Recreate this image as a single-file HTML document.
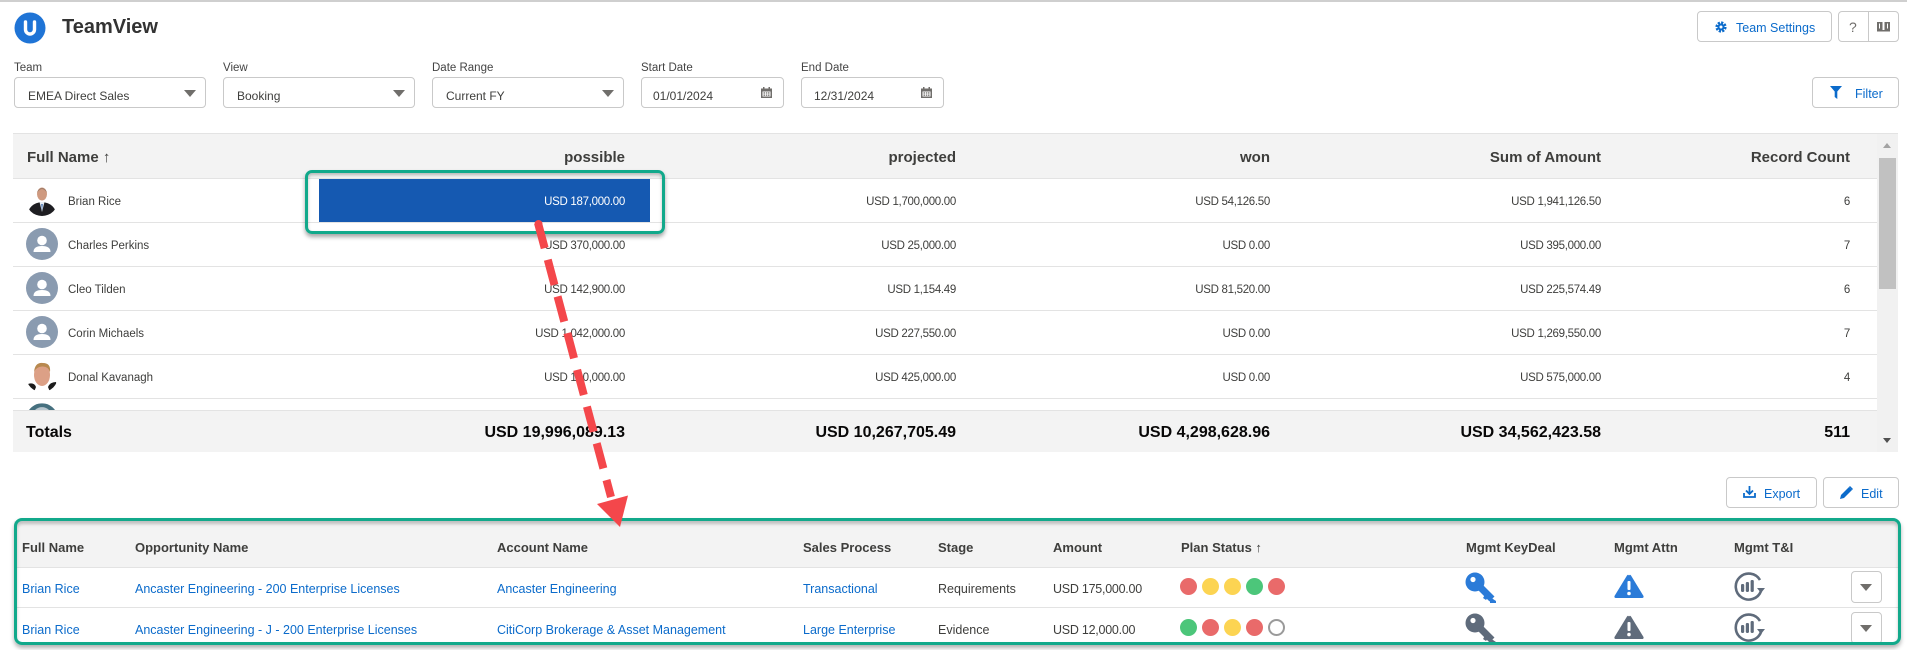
<!DOCTYPE html>
<html><head><meta charset="utf-8"><style>
*{margin:0;padding:0;box-sizing:border-box}
body{width:1907px;height:650px;overflow:hidden;background:#fff;font-family:"Liberation Sans",sans-serif;color:#3e3e3c}
#w{position:relative;width:1907px;height:650px;overflow:hidden;background:#fff}
.a{position:absolute}
.t{position:absolute;white-space:nowrap;line-height:1}
.lbl{font-size:11.5px;color:#444}
.box{position:absolute;border:1px solid #c9c9c9;border-radius:4px;background:#fff}
.dd{font-size:12px;color:#3e3e3c}
.tri{position:absolute;width:0;height:0;border-left:6px solid transparent;border-right:6px solid transparent;border-top:7px solid #706e6b}
.h1{font-size:15px;font-weight:bold;color:#3e3e3c}
.nm{font-size:11.5px;color:#3e3e3c}
.num{font-size:11.5px;color:#3e3e3c;letter-spacing:-0.3px}
.tot{font-size:16px;font-weight:bold;color:#080707}
.rl{position:absolute;left:13px;width:1864px;height:1px;background:#e3e3e3}
.h2{font-size:13px;font-weight:bold;color:#3e3e3c}
.lk{font-size:12.5px;color:#0b6bcb}
.tx{font-size:12.5px;color:#3e3e3c}
.dot{position:absolute;width:17px;height:17px;border-radius:50%}
.R{background:#e96a6a}.Y{background:#fcd452}.G{background:#4cc67a}
.E{background:#fff;border:2px solid #9a9a9a}
.btn{position:absolute;border:1px solid #c9c9c9;border-radius:4px;background:#fff}
.bt{font-size:12.5px;color:#0b6bcb}
</style></head><body><div id="w">

<!-- top border -->
<div class="a" style="left:0;top:0;width:1907px;height:2px;background:#cfcfcf"></div>

<!-- logo -->
<svg class="a" style="left:14px;top:12px" width="32" height="32" viewBox="0 0 32 32">
<circle cx="16" cy="16" r="15.5" fill="#1f74d6"/>
<path d="M11.5 10 V17.5 A4.5 4.5 0 0 0 20.5 17.5 V10" fill="none" stroke="#fff" stroke-width="3.4" stroke-linecap="round"/>
</svg>
<div class="t" style="left:62px;top:17px;font-size:20px;font-weight:bold;color:#333">TeamView</div>

<!-- top right buttons -->
<div class="btn" style="left:1697px;top:11px;width:135px;height:31px"></div>
<svg class="a" style="left:1715px;top:21px" width="12" height="12" viewBox="0 0 12 12">
<circle cx="6" cy="6" r="4" fill="none" stroke="#0b6bcb" stroke-width="3.2" stroke-dasharray="2 1.14"/>
<circle cx="6" cy="6" r="3.6" fill="#0b6bcb"/><circle cx="6" cy="6" r="1.5" fill="#fff"/>
</svg>
<div class="t bt" style="left:1736px;top:22px">Team Settings</div>
<div class="btn" style="left:1838px;top:11px;width:61px;height:31px"></div>
<div class="a" style="left:1868px;top:12px;width:1px;height:29px;background:#c9c9c9"></div>
<div class="t" style="left:1849px;top:20px;font-size:14px;color:#706e6b">?</div>
<svg class="a" style="left:1877px;top:21px" width="13" height="11" viewBox="0 0 13 11">
<rect x="0" y="1" width="5.5" height="8" fill="#706e6b"/><rect x="7.5" y="1" width="5.5" height="8" fill="#706e6b"/>
<rect x="0" y="9" width="13" height="1.5" fill="#706e6b"/><rect x="2" y="2.5" width="1" height="5" fill="#fff"/><rect x="10" y="2.5" width="1" height="5" fill="#fff"/>
</svg>

<!-- filters -->
<div class="t lbl" style="left:14px;top:63px">Team</div>
<div class="box" style="left:14px;top:77px;width:192px;height:31px"></div>
<div class="t dd" style="left:28px;top:90px">EMEA Direct Sales</div>
<div class="tri" style="left:184px;top:90px"></div>

<div class="t lbl" style="left:223px;top:63px">View</div>
<div class="box" style="left:223px;top:77px;width:192px;height:31px"></div>
<div class="t dd" style="left:237px;top:90px">Booking</div>
<div class="tri" style="left:393px;top:90px"></div>

<div class="t lbl" style="left:432px;top:63px">Date Range</div>
<div class="box" style="left:432px;top:77px;width:192px;height:31px"></div>
<div class="t dd" style="left:446px;top:90px">Current FY</div>
<div class="tri" style="left:602px;top:90px"></div>

<div class="t lbl" style="left:641px;top:63px">Start Date</div>
<div class="box" style="left:641px;top:77px;width:143px;height:31px"></div>
<div class="t dd" style="left:653px;top:90px">01/01/2024</div>
<svg class="a" style="left:761px;top:87px" width="11" height="11" viewBox="0 0 11 11"><rect x="0" y="1.5" width="11" height="9.5" fill="#706e6b"/><rect x="2" y="0" width="1.5" height="3" fill="#706e6b"/><rect x="7.5" y="0" width="1.5" height="3" fill="#706e6b"/><rect x="1.5" y="4.5" width="8" height="5" fill="#fff"/><rect x="2.5" y="5.3" width="1.5" height="1.3" fill="#706e6b"/><rect x="4.8" y="5.3" width="1.5" height="1.3" fill="#706e6b"/><rect x="7" y="5.3" width="1.5" height="1.3" fill="#706e6b"/><rect x="2.5" y="7.5" width="1.5" height="1.3" fill="#706e6b"/><rect x="4.8" y="7.5" width="1.5" height="1.3" fill="#706e6b"/><rect x="7" y="7.5" width="1.5" height="1.3" fill="#706e6b"/></svg>

<div class="t lbl" style="left:801px;top:63px">End Date</div>
<div class="box" style="left:801px;top:77px;width:143px;height:31px"></div>
<div class="t dd" style="left:814px;top:90px">12/31/2024</div>
<svg class="a" style="left:921px;top:87px" width="11" height="11" viewBox="0 0 11 11"><rect x="0" y="1.5" width="11" height="9.5" fill="#706e6b"/><rect x="2" y="0" width="1.5" height="3" fill="#706e6b"/><rect x="7.5" y="0" width="1.5" height="3" fill="#706e6b"/><rect x="1.5" y="4.5" width="8" height="5" fill="#fff"/><rect x="2.5" y="5.3" width="1.5" height="1.3" fill="#706e6b"/><rect x="4.8" y="5.3" width="1.5" height="1.3" fill="#706e6b"/><rect x="7" y="5.3" width="1.5" height="1.3" fill="#706e6b"/><rect x="2.5" y="7.5" width="1.5" height="1.3" fill="#706e6b"/><rect x="4.8" y="7.5" width="1.5" height="1.3" fill="#706e6b"/><rect x="7" y="7.5" width="1.5" height="1.3" fill="#706e6b"/></svg>

<div class="btn" style="left:1812px;top:77px;width:87px;height:31px"></div>
<svg class="a" style="left:1830px;top:86px" width="12" height="13" viewBox="0 0 12 13"><path d="M0 0 H12 L7.3 5.5 V13 L4.7 11 V5.5Z" fill="#0b6bcb"/></svg>
<div class="t bt" style="left:1855px;top:88px">Filter</div>

<!-- TABLE 1 -->
<div class="a" style="left:13px;top:133px;width:1885px;height:1px;background:#e3e3e3"></div>
<div class="a" style="left:13px;top:134px;width:1864px;height:44px;background:#f3f3f3"></div>
<div class="t h1" style="left:27px;top:150px">Full Name ↑</div>
<div class="t h1" style="right:1282px;top:150px">possible</div>
<div class="t h1" style="right:951px;top:150px">projected</div>
<div class="t h1" style="right:637px;top:150px">won</div>
<div class="t h1" style="right:306px;top:150px">Sum of Amount</div>
<div class="t h1" style="right:57px;top:150px">Record Count</div>
<div class="rl" style="top:178px"></div>
<div class="rl" style="top:222px"></div>
<div class="rl" style="top:266px"></div>
<div class="rl" style="top:310px"></div>
<div class="rl" style="top:354px"></div>
<div class="rl" style="top:398px"></div>

<!-- avatars -->
<svg class="a" style="left:26px;top:184px" width="32" height="32" viewBox="0 0 32 32"><defs><clipPath id="c1"><circle cx="16" cy="16" r="16"/></clipPath></defs><g clip-path="url(#c1)"><rect width="32" height="32" fill="#fff"/><path d="M1 32 Q3 19 16 18 Q29 19 31 32Z" fill="#1e1e22"/><path d="M13.5 18 L16 28 L18.5 18Z" fill="#e8eef5"/><path d="M15.3 20 L16 27 L16.7 20Z" fill="#2b5fa8"/><ellipse cx="16" cy="10" rx="5" ry="6.5" fill="#cf9a80"/><path d="M11 9 Q16 1 21 9 Q20 4.5 16 4 Q12 4.5 11 9Z" fill="#9a7a66"/></g></svg>
<svg class="a" style="left:26px;top:228px" width="32" height="32" viewBox="0 0 32 32"><circle cx="16" cy="16" r="16" fill="#8a9bb0"/><circle cx="16" cy="12.5" r="4.8" fill="#fff"/><path d="M7.5 24 Q7.5 18 16 18 Q24.5 18 24.5 24 Z" fill="#fff"/></svg>
<svg class="a" style="left:26px;top:272px" width="32" height="32" viewBox="0 0 32 32"><circle cx="16" cy="16" r="16" fill="#8a9bb0"/><circle cx="16" cy="12.5" r="4.8" fill="#fff"/><path d="M7.5 24 Q7.5 18 16 18 Q24.5 18 24.5 24 Z" fill="#fff"/></svg>
<svg class="a" style="left:26px;top:316px" width="32" height="32" viewBox="0 0 32 32"><circle cx="16" cy="16" r="16" fill="#8a9bb0"/><circle cx="16" cy="12.5" r="4.8" fill="#fff"/><path d="M7.5 24 Q7.5 18 16 18 Q24.5 18 24.5 24 Z" fill="#fff"/></svg>
<svg class="a" style="left:26px;top:360px" width="32" height="32" viewBox="0 0 32 32"><defs><clipPath id="c2"><circle cx="16" cy="16" r="16"/></clipPath></defs><g clip-path="url(#c2)"><rect width="32" height="32" fill="#fff"/><path d="M0 32 L2 24 Q8 22 10 27 L8 32Z" fill="#1b1b1b"/><path d="M32 32 L30 22 Q24 22 22 27 L24 32Z" fill="#1b1b1b"/><ellipse cx="16" cy="15" rx="8" ry="11" fill="#dca086"/><path d="M8 12 Q9 2 17 3 Q25 3 24 12 Q22 6 16 6.5 Q10 7 8 12Z" fill="#b8894f"/></g></svg>
<svg class="a" style="left:26px;top:400px" width="32" height="10" viewBox="0 0 32 10"><path d="M3 10 A16 16 0 0 1 29 10Z" fill="#46707f"/><path d="M9 10 A10 10 0 0 1 23 10Z" fill="#b9c7cf"/></svg>

<div class="t nm" style="left:68px;top:197px">Brian Rice</div>
<div class="t nm" style="left:68px;top:241px">Charles Perkins</div>
<div class="t nm" style="left:68px;top:285px">Cleo Tilden</div>
<div class="t nm" style="left:68px;top:329px">Corin Michaels</div>
<div class="t nm" style="left:68px;top:373px">Donal Kavanagh</div>

<!-- blue bar -->
<div class="a" style="left:319px;top:179px;width:331px;height:43px;background:#1559b1"></div>

<!-- possible -->
<div class="t num" style="right:1282px;top:197px;color:#fff">USD 187,000.00</div>
<div class="t num" style="right:1282px;top:241px">USD 370,000.00</div>
<div class="t num" style="right:1282px;top:285px">USD 142,900.00</div>
<div class="t num" style="right:1282px;top:329px">USD 1,042,000.00</div>
<div class="t num" style="right:1282px;top:373px">USD 150,000.00</div>
<!-- projected -->
<div class="t num" style="right:951px;top:197px">USD 1,700,000.00</div>
<div class="t num" style="right:951px;top:241px">USD 25,000.00</div>
<div class="t num" style="right:951px;top:285px">USD 1,154.49</div>
<div class="t num" style="right:951px;top:329px">USD 227,550.00</div>
<div class="t num" style="right:951px;top:373px">USD 425,000.00</div>
<!-- won -->
<div class="t num" style="right:637px;top:197px">USD 54,126.50</div>
<div class="t num" style="right:637px;top:241px">USD 0.00</div>
<div class="t num" style="right:637px;top:285px">USD 81,520.00</div>
<div class="t num" style="right:637px;top:329px">USD 0.00</div>
<div class="t num" style="right:637px;top:373px">USD 0.00</div>
<!-- sum -->
<div class="t num" style="right:306px;top:197px">USD 1,941,126.50</div>
<div class="t num" style="right:306px;top:241px">USD 395,000.00</div>
<div class="t num" style="right:306px;top:285px">USD 225,574.49</div>
<div class="t num" style="right:306px;top:329px">USD 1,269,550.00</div>
<div class="t num" style="right:306px;top:373px">USD 575,000.00</div>
<!-- count -->
<div class="t num" style="right:57px;top:197px">6</div>
<div class="t num" style="right:57px;top:241px">7</div>
<div class="t num" style="right:57px;top:285px">6</div>
<div class="t num" style="right:57px;top:329px">7</div>
<div class="t num" style="right:57px;top:373px">4</div>

<!-- totals -->
<div class="a" style="left:13px;top:410px;width:1864px;height:1px;background:#e3e3e3"></div>
<div class="a" style="left:13px;top:411px;width:1864px;height:41px;background:#f3f3f3"></div>
<div class="t tot" style="left:26px;top:425px">Totals</div>
<div class="t tot" style="right:1282px;top:425px">USD 19,996,089.13</div>
<div class="t tot" style="right:951px;top:425px">USD 10,267,705.49</div>
<div class="t tot" style="right:637px;top:425px">USD 4,298,628.96</div>
<div class="t tot" style="right:306px;top:425px">USD 34,562,423.58</div>
<div class="t tot" style="right:57px;top:425px">511</div>

<!-- scrollbar -->
<div class="a" style="left:1877px;top:134px;width:21px;height:318px;background:#f1f1f1"></div>
<div class="a" style="left:1879px;top:158px;width:17px;height:131px;background:#c1c1c1"></div>
<div class="a" style="left:1883px;top:143px;width:0;height:0;border-left:4.5px solid transparent;border-right:4.5px solid transparent;border-bottom:5px solid #a3a3a3"></div>
<div class="a" style="left:1883px;top:438px;width:0;height:0;border-left:4.5px solid transparent;border-right:4.5px solid transparent;border-top:5px solid #505050"></div>

<!-- highlight 1 -->
<div class="a" style="left:305px;top:170px;width:360px;height:64px;border:3px solid #12a98b;border-radius:7px;box-shadow:0 3px 4px rgba(0,0,0,0.35),inset 0 2px 3px rgba(0,0,0,0.25)"></div>

<!-- Export / Edit -->
<div class="btn" style="left:1726px;top:477px;width:91px;height:31px"></div>
<svg class="a" style="left:1743px;top:486px" width="13" height="12" viewBox="0 0 13 12"><path d="M6.5 0 V7" stroke="#0b6bcb" stroke-width="1.8"/><path d="M3 4.5 L6.5 8 L10 4.5" fill="none" stroke="#0b6bcb" stroke-width="1.8"/><path d="M1 7 V11 H12 V7" fill="none" stroke="#0b6bcb" stroke-width="1.8"/></svg>
<div class="t bt" style="left:1764px;top:488px">Export</div>
<div class="btn" style="left:1823px;top:477px;width:76px;height:31px"></div>
<svg class="a" style="left:1840px;top:486px" width="13" height="13" viewBox="0 0 13 13"><path d="M0 13 L1 9 L9 1 L12 4 L4 12Z" fill="#0b6bcb"/><path d="M10 0 L13 3 L12 4 L9 1Z" fill="#0b6bcb"/></svg>
<div class="t bt" style="left:1861px;top:488px">Edit</div>

<!-- TABLE 2 -->
<div class="a" style="left:14px;top:521px;width:1886px;height:46px;background:#f3f3f3"></div>
<div class="a" style="left:14px;top:567px;width:1886px;height:1px;background:#e3e3e3"></div>
<div class="a" style="left:14px;top:607px;width:1886px;height:1px;background:#e3e3e3"></div>

<div class="t h2" style="left:22px;top:541px">Full Name</div>
<div class="t h2" style="left:135px;top:541px">Opportunity Name</div>
<div class="t h2" style="left:497px;top:541px">Account Name</div>
<div class="t h2" style="left:803px;top:541px">Sales Process</div>
<div class="t h2" style="left:938px;top:541px">Stage</div>
<div class="t h2" style="left:1053px;top:541px">Amount</div>
<div class="t h2" style="left:1181px;top:541px">Plan Status ↑</div>
<div class="t h2" style="left:1466px;top:541px">Mgmt KeyDeal</div>
<div class="t h2" style="left:1614px;top:541px">Mgmt Attn</div>
<div class="t h2" style="left:1734px;top:541px">Mgmt T&amp;I</div>

<div class="t lk" style="left:22px;top:583px">Brian Rice</div>
<div class="t lk" style="left:135px;top:583px">Ancaster Engineering - 200 Enterprise Licenses</div>
<div class="t lk" style="left:497px;top:583px">Ancaster Engineering</div>
<div class="t lk" style="left:803px;top:583px">Transactional</div>
<div class="t tx" style="left:938px;top:583px">Requirements</div>
<div class="t tx" style="left:1053px;top:583px;letter-spacing:-0.25px">USD 175,000.00</div>

<div class="t lk" style="left:22px;top:624px">Brian Rice</div>
<div class="t lk" style="left:135px;top:624px">Ancaster Engineering - J - 200 Enterprise Licenses</div>
<div class="t lk" style="left:497px;top:624px">CitiCorp Brokerage &amp; Asset Management</div>
<div class="t lk" style="left:803px;top:624px">Large Enterprise</div>
<div class="t tx" style="left:938px;top:624px">Evidence</div>
<div class="t tx" style="left:1053px;top:624px;letter-spacing:-0.25px">USD 12,000.00</div>

<!-- dots -->
<div class="dot R" style="left:1180px;top:578px"></div>
<div class="dot Y" style="left:1202px;top:578px"></div>
<div class="dot Y" style="left:1224px;top:578px"></div>
<div class="dot G" style="left:1246px;top:578px"></div>
<div class="dot R" style="left:1268px;top:578px"></div>
<div class="dot G" style="left:1180px;top:619px"></div>
<div class="dot R" style="left:1202px;top:619px"></div>
<div class="dot Y" style="left:1224px;top:619px"></div>
<div class="dot R" style="left:1246px;top:619px"></div>
<div class="dot E" style="left:1268px;top:619px"></div>

<!-- key icons -->
<svg class="a" style="left:1465px;top:572px" width="32" height="31" viewBox="0 0 32 31"><circle cx="10" cy="10" r="9.5" fill="#2b7bd8"/><circle cx="8" cy="7.5" r="2.6" fill="#fff"/><path d="M14 14 L27 27" stroke="#2b7bd8" stroke-width="7"/><path d="M21 21 L18 26 L21 28 L24 24Z" fill="#2b7bd8"/><path d="M25 25 L25 31 L31 31 L31 29Z" fill="#2b7bd8"/></svg>
<svg class="a" style="left:1465px;top:613px" width="32" height="31" viewBox="0 0 32 31"><circle cx="10" cy="10" r="9.5" fill="#5f6b7b"/><circle cx="8" cy="7.5" r="2.6" fill="#fff"/><path d="M14 14 L27 27" stroke="#5f6b7b" stroke-width="7"/><path d="M21 21 L18 26 L21 28 L24 24Z" fill="#5f6b7b"/><path d="M25 25 L25 31 L31 31 L31 29Z" fill="#5f6b7b"/></svg>

<!-- warning icons -->
<svg class="a" style="left:1614px;top:574px" width="30" height="24" viewBox="0 0 30 24"><path d="M15 1.5 Q16 0 17 1.5 L29.5 22 Q30 24 28 24 H2 Q0 24 0.5 22 L13 1.5 Q14 0 15 1.5Z" fill="#2b7bd8"/><rect x="13.5" y="7" width="3" height="9" rx="1" fill="#fff"/><circle cx="15" cy="19.5" r="1.8" fill="#fff"/></svg>
<svg class="a" style="left:1614px;top:615px" width="30" height="24" viewBox="0 0 30 24"><path d="M15 1.5 Q16 0 17 1.5 L29.5 22 Q30 24 28 24 H2 Q0 24 0.5 22 L13 1.5 Q14 0 15 1.5Z" fill="#5f6b7b"/><rect x="13.5" y="7" width="3" height="9" rx="1" fill="#fff"/><circle cx="15" cy="19.5" r="1.8" fill="#fff"/></svg>

<!-- T&I icons -->
<svg class="a" style="left:1733px;top:571px" width="33" height="30" viewBox="0 0 33 30"><path d="M27 9 A13 13 0 1 0 28 20" fill="none" stroke="#5f6b7b" stroke-width="2.6"/><path d="M24 17 L32 17 L28 22Z" fill="#5f6b7b"/><rect x="8" y="13" width="3.2" height="8" rx="1.2" fill="#5f6b7b"/><rect x="12.8" y="11" width="3.2" height="10" rx="1.2" fill="#5f6b7b"/><rect x="17.6" y="9" width="3.2" height="12" rx="1.2" fill="#5f6b7b"/></svg>
<svg class="a" style="left:1733px;top:612px" width="33" height="30" viewBox="0 0 33 30"><path d="M27 9 A13 13 0 1 0 28 20" fill="none" stroke="#5f6b7b" stroke-width="2.6"/><path d="M24 17 L32 17 L28 22Z" fill="#5f6b7b"/><rect x="8" y="13" width="3.2" height="8" rx="1.2" fill="#5f6b7b"/><rect x="12.8" y="11" width="3.2" height="10" rx="1.2" fill="#5f6b7b"/><rect x="17.6" y="9" width="3.2" height="12" rx="1.2" fill="#5f6b7b"/></svg>

<!-- row dropdown buttons -->
<div class="btn" style="left:1851px;top:571px;width:31px;height:32px"></div>
<div class="tri" style="left:1860px;top:584px"></div>
<div class="btn" style="left:1851px;top:612px;width:31px;height:32px"></div>
<div class="tri" style="left:1860px;top:625px"></div>

<!-- highlight 2 -->
<div class="a" style="left:14px;top:518px;width:1887px;height:127px;border:3px solid #12a98b;border-radius:8px;box-shadow:0 3px 4px rgba(0,0,0,0.3),inset 0 3px 3px rgba(0,0,0,0.22)"></div>

<!-- red dashed arrow -->
<svg class="a" style="left:0;top:0" width="1907" height="650" viewBox="0 0 1907 650">
<line x1="538" y1="223" x2="611" y2="497" stroke="#f4474b" stroke-width="8" stroke-dasharray="26 12"/>
<circle cx="538.5" cy="224" r="4" fill="#f4474b"/>
<polygon points="597,504 628,495.5 620,527" fill="#f4474b"/>
</svg>

</div></body></html>
